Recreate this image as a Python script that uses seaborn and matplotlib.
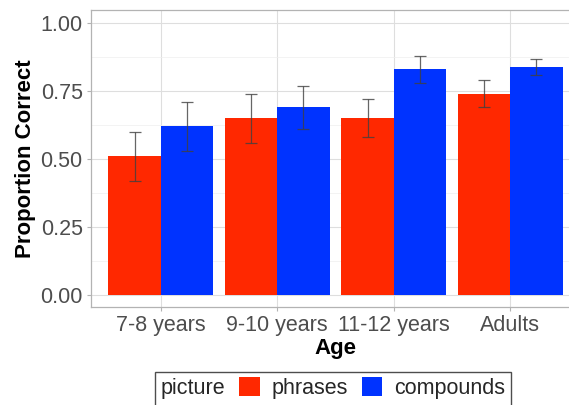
import matplotlib
matplotlib.use("Agg")
import matplotlib.pyplot as plt
import seaborn as sns
import pandas as pd
import numpy as np
from matplotlib.patches import Patch, Rectangle

# Proportion correct by age group and picture type
ages = ["7-8 years", "9-10 years", "11-12 years", "Adults"]
pictures = ["phrases", "compounds"]
phrases_mean = [0.51, 0.65, 0.65, 0.74]
phrases_lo = [0.42, 0.56, 0.58, 0.69]
phrases_hi = [0.60, 0.74, 0.72, 0.79]
compounds_mean = [0.62, 0.69, 0.83, 0.84]
compounds_lo = [0.53, 0.61, 0.78, 0.81]
compounds_hi = [0.71, 0.77, 0.88, 0.87]
y_ticks = [0.00, 0.25, 0.50, 0.75, 1.00]

colors = {"phrases": "#FF2800", "compounds": "#0033FF"}

df = pd.DataFrame({
    "Age": ages * 2,
    "picture": ["phrases"] * 4 + ["compounds"] * 4,
    "prop": phrases_mean + compounds_mean,
    "lo": phrases_lo + compounds_lo,
    "hi": phrases_hi + compounds_hi,
})

sns.set_theme(style="white")
plt.rcParams["font.family"] = ["Liberation Sans", "DejaVu Sans"]

W, H = 569, 405
fig = plt.figure(figsize=(W / 100, H / 100), dpi=100)
left, right, top, bottom = 91, 580, 10, 307
ax = fig.add_axes([left / W, 1 - bottom / H, (right - left) / W, (bottom - top) / H])

sns.barplot(data=df, x="Age", y="prop", hue="picture", order=ages,
            hue_order=pictures, palette=colors, width=0.9, gap=0,
            errorbar=None, saturation=1, linewidth=0, ax=ax, zorder=2,
            legend=False)

# error bars placed at each bar's centre
for i, pic in enumerate(pictures):
    sub = df[df["picture"] == pic].set_index("Age").loc[ages]
    cont = ax.containers[i]
    xs = [p.get_x() + p.get_width() / 2 for p in cont.patches]
    means = sub["prop"].to_numpy()
    yerr = np.vstack([means - sub["lo"].to_numpy(), sub["hi"].to_numpy() - means])
    ax.errorbar(xs, means, yerr=yerr, fmt="none", ecolor="#404040",
                elinewidth=0.9, capsize=4.3, capthick=0.9, alpha=0.8, zorder=3)

ax.set_xlim(-0.6, 3.6)
ax.set_ylim(-0.045, 1.049)
ax.set_yticks(y_ticks)
ax.set_yticklabels([f"{v:.2f}" for v in y_ticks])
ax.set_yticks([0.125, 0.375, 0.625, 0.875], minor=True)

ax.grid(True, which="major", color="#DEDEDE", linewidth=0.8, zorder=0)
ax.grid(True, which="minor", axis="y", color="#EEEEEE", linewidth=0.5, zorder=0)
ax.set_axisbelow(True)
for s in ax.spines.values():
    s.set_color("#B3B3B3")
    s.set_linewidth(0.9)
ax.spines["right"].set_visible(False)

ax.tick_params(axis="both", which="major", length=3, width=0.8, color="#B3B3B3",
               labelsize=15.5, labelcolor="#4D4D4D", pad=3, left=True, bottom=True)
ax.tick_params(axis="both", which="minor", length=0)

ax.set_xlabel("Age", fontsize=16, fontweight="bold", color="black", labelpad=1)
ax.set_ylabel("Proportion Correct", fontsize=16, fontweight="bold", color="black", labelpad=3)

handles = [Patch(facecolor=colors[p], edgecolor="none") for p in pictures]
leg = fig.legend(handles, pictures, title="picture", loc="upper center",
                 bbox_to_anchor=(333 / W, 1 - 372 / H), bbox_transform=fig.transFigure,
                 ncol=2, fontsize=15.5, title_fontsize=15.5, frameon=False,
                 handlelength=0.95, handleheight=0.95, handletextpad=0.55,
                 columnspacing=0.45, borderpad=0.25, borderaxespad=0)
# place the legend title inline, to the left of the keys
box = leg.get_children()[0]
title_box, hpack = box.get_children()[0], box.get_children()[1]
box._children = [hpack]
hpack._children = [title_box] + hpack.get_children()
hpack.sep = 10

# legend border, continuing past the bottom edge of the figure
fig.canvas.draw()
bb = leg.get_window_extent().transformed(fig.transFigure.inverted())
frame = Rectangle((bb.x0, -0.05), bb.width, bb.y1 + 0.05, transform=fig.transFigure,
                  facecolor="white", edgecolor="#4D4D4D", linewidth=1.0, zorder=0)
fig.patches.append(frame)

fig.savefig("out.png", dpi=100)
